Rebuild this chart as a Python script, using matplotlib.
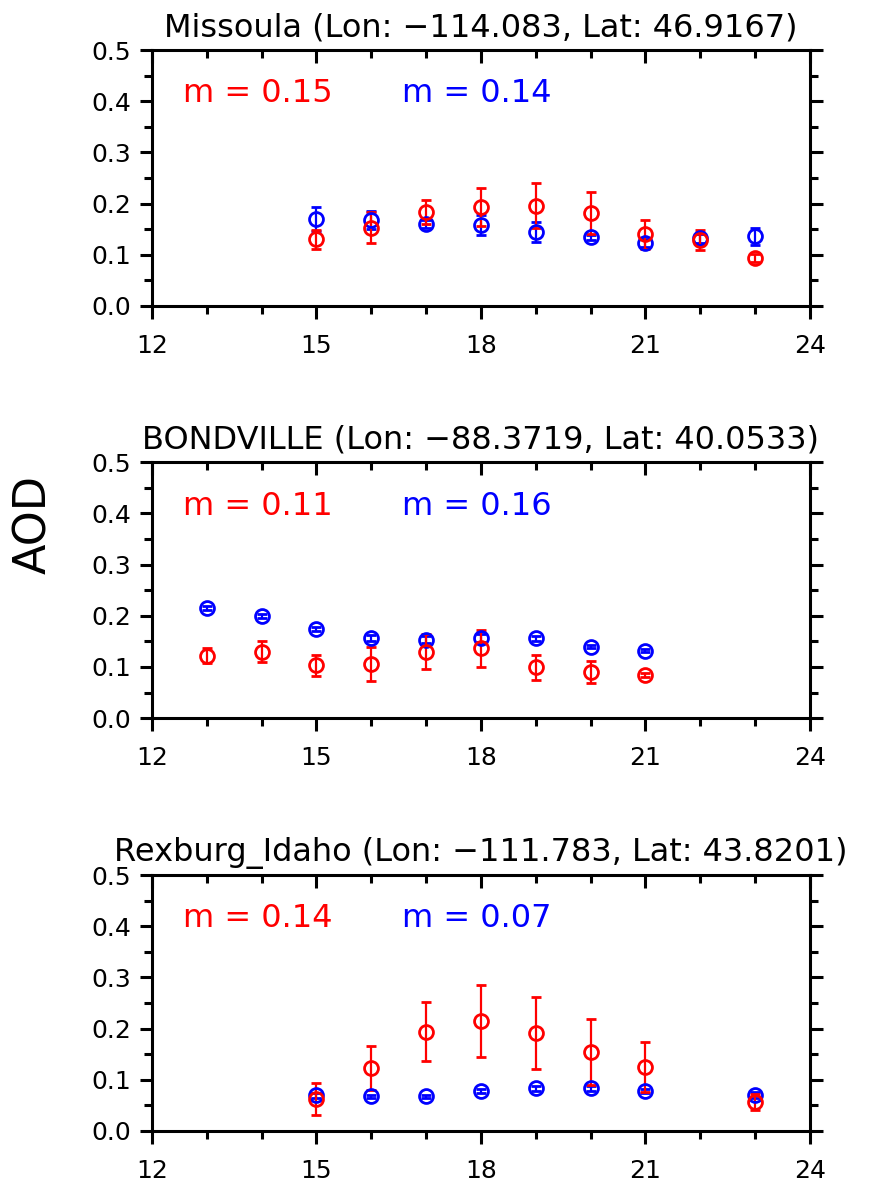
import numpy as np
import matplotlib
matplotlib.use("Agg")
import matplotlib.pyplot as plt
from matplotlib.ticker import MultipleLocator

# station names / slopes
titles = ["Missoula (Lon: \u2212114.083, Lat: 46.9167)",
          "BONDVILLE (Lon: \u221288.3719, Lat: 40.0533)",
          "Rexburg_Idaho (Lon: \u2212111.783, Lat: 43.8201)"]
m_red = ["0.15", "0.11", "0.14"]
m_blue = ["0.14", "0.16", "0.07"]

# Missoula
hours_mis = [15, 16, 17, 18, 19, 20, 21, 22, 23]
mis_red = [0.130, 0.153, 0.184, 0.194, 0.196, 0.181, 0.140, 0.129, 0.094]
mis_red_err = [0.019, 0.030, 0.023, 0.037, 0.044, 0.041, 0.028, 0.019, 0.008]
mis_blue = [0.170, 0.168, 0.160, 0.158, 0.145, 0.134, 0.123, 0.132, 0.136]
mis_blue_err = [0.023, 0.017, 0.007, 0.019, 0.020, 0.005, 0.008, 0.009, 0.017]

# Bondville
hours_bon = [13, 14, 15, 16, 17, 18, 19, 20, 21]
bon_red = [0.122, 0.130, 0.103, 0.105, 0.130, 0.136, 0.099, 0.090, 0.085]
bon_red_err = [0.014, 0.020, 0.021, 0.033, 0.035, 0.036, 0.025, 0.022, 0.004]
bon_blue = [0.215, 0.200, 0.174, 0.156, 0.153, 0.157, 0.156, 0.139, 0.132]
bon_blue_err = [0.004, 0.004, 0.004, 0.006, 0.007, 0.008, 0.005, 0.003, 0.003]

# Rexburg
hours_rex = [15, 16, 17, 18, 19, 20, 21, 23]
rex_red = [0.062, 0.123, 0.194, 0.215, 0.191, 0.154, 0.125, 0.057]
rex_red_err = [0.031, 0.043, 0.058, 0.071, 0.070, 0.064, 0.048, 0.016]
rex_blue = [0.070, 0.068, 0.068, 0.078, 0.083, 0.083, 0.078, 0.070]
rex_blue_err = [0.005, 0.003, 0.003, 0.003, 0.005, 0.005, 0.004, 0.006]

panels = [
    (hours_mis, mis_red, mis_red_err, mis_blue, mis_blue_err),
    (hours_bon, bon_red, bon_red_err, bon_blue, bon_blue_err),
    (hours_rex, rex_red, rex_red_err, rex_blue, rex_blue_err),
]

plt.rcParams['font.family'] = ['DejaVu Sans']

fig = plt.figure(figsize=(8.76, 11.85), dpi=100)
bottoms = [0.7418, 0.394, 0.0456]

for i, (hrs, red, red_err, blue, blue_err) in enumerate(panels):
    ax = fig.add_axes([0.1735, bottoms[i], 0.751, 0.216])
    ###blue first, red on top
    ax.errorbar(hrs, blue, yerr=blue_err, fmt='o', color='blue', mfc='none',
                ms=10, mew=2.0, elinewidth=1.6, capsize=3.5, capthick=1.6)
    ax.errorbar(hrs, red, yerr=red_err, fmt='o', color='red', mfc='none',
                ms=10, mew=2.0, elinewidth=1.6, capsize=3.5, capthick=1.6)

    ax.set_xlim(12, 24)
    ax.set_ylim(0, 0.5)
    ax.xaxis.set_major_locator(MultipleLocator(3))
    ax.xaxis.set_minor_locator(MultipleLocator(1))
    ax.yaxis.set_major_locator(MultipleLocator(0.1))
    ax.yaxis.set_minor_locator(MultipleLocator(0.05))
    ax.yaxis.set_major_formatter(matplotlib.ticker.FormatStrFormatter('%.1f'))

    for sp in ax.spines.values():
        sp.set_linewidth(2.2)
    ax.tick_params(which='both', top=True, right=True, width=2.2, labelsize=18)
    ax.tick_params(which='major', length=9)
    ax.tick_params(which='minor', length=6)
    ax.tick_params(axis='x', which='both', direction='out', pad=11)
    ax.tick_params(axis='y', which='both', direction='out', pad=6)
    # top ticks point inward
    for t in ax.xaxis.get_major_ticks() + ax.xaxis.get_minor_ticks():
        t.tick2line.set_marker(matplotlib.lines.TICKDOWN)

    ax.set_title(titles[i], fontsize=23, pad=10)
    ax.text(0.047, 0.795, "m = " + m_red[i], color='red', fontsize=23, transform=ax.transAxes)
    ax.text(0.38, 0.795, "m = " + m_blue[i], color='blue', fontsize=23, transform=ax.transAxes)

fig.text(0.038, 0.557, "AOD", rotation=90, fontsize=32, ha='center', va='center')

fig.savefig("out.png", dpi=100)
